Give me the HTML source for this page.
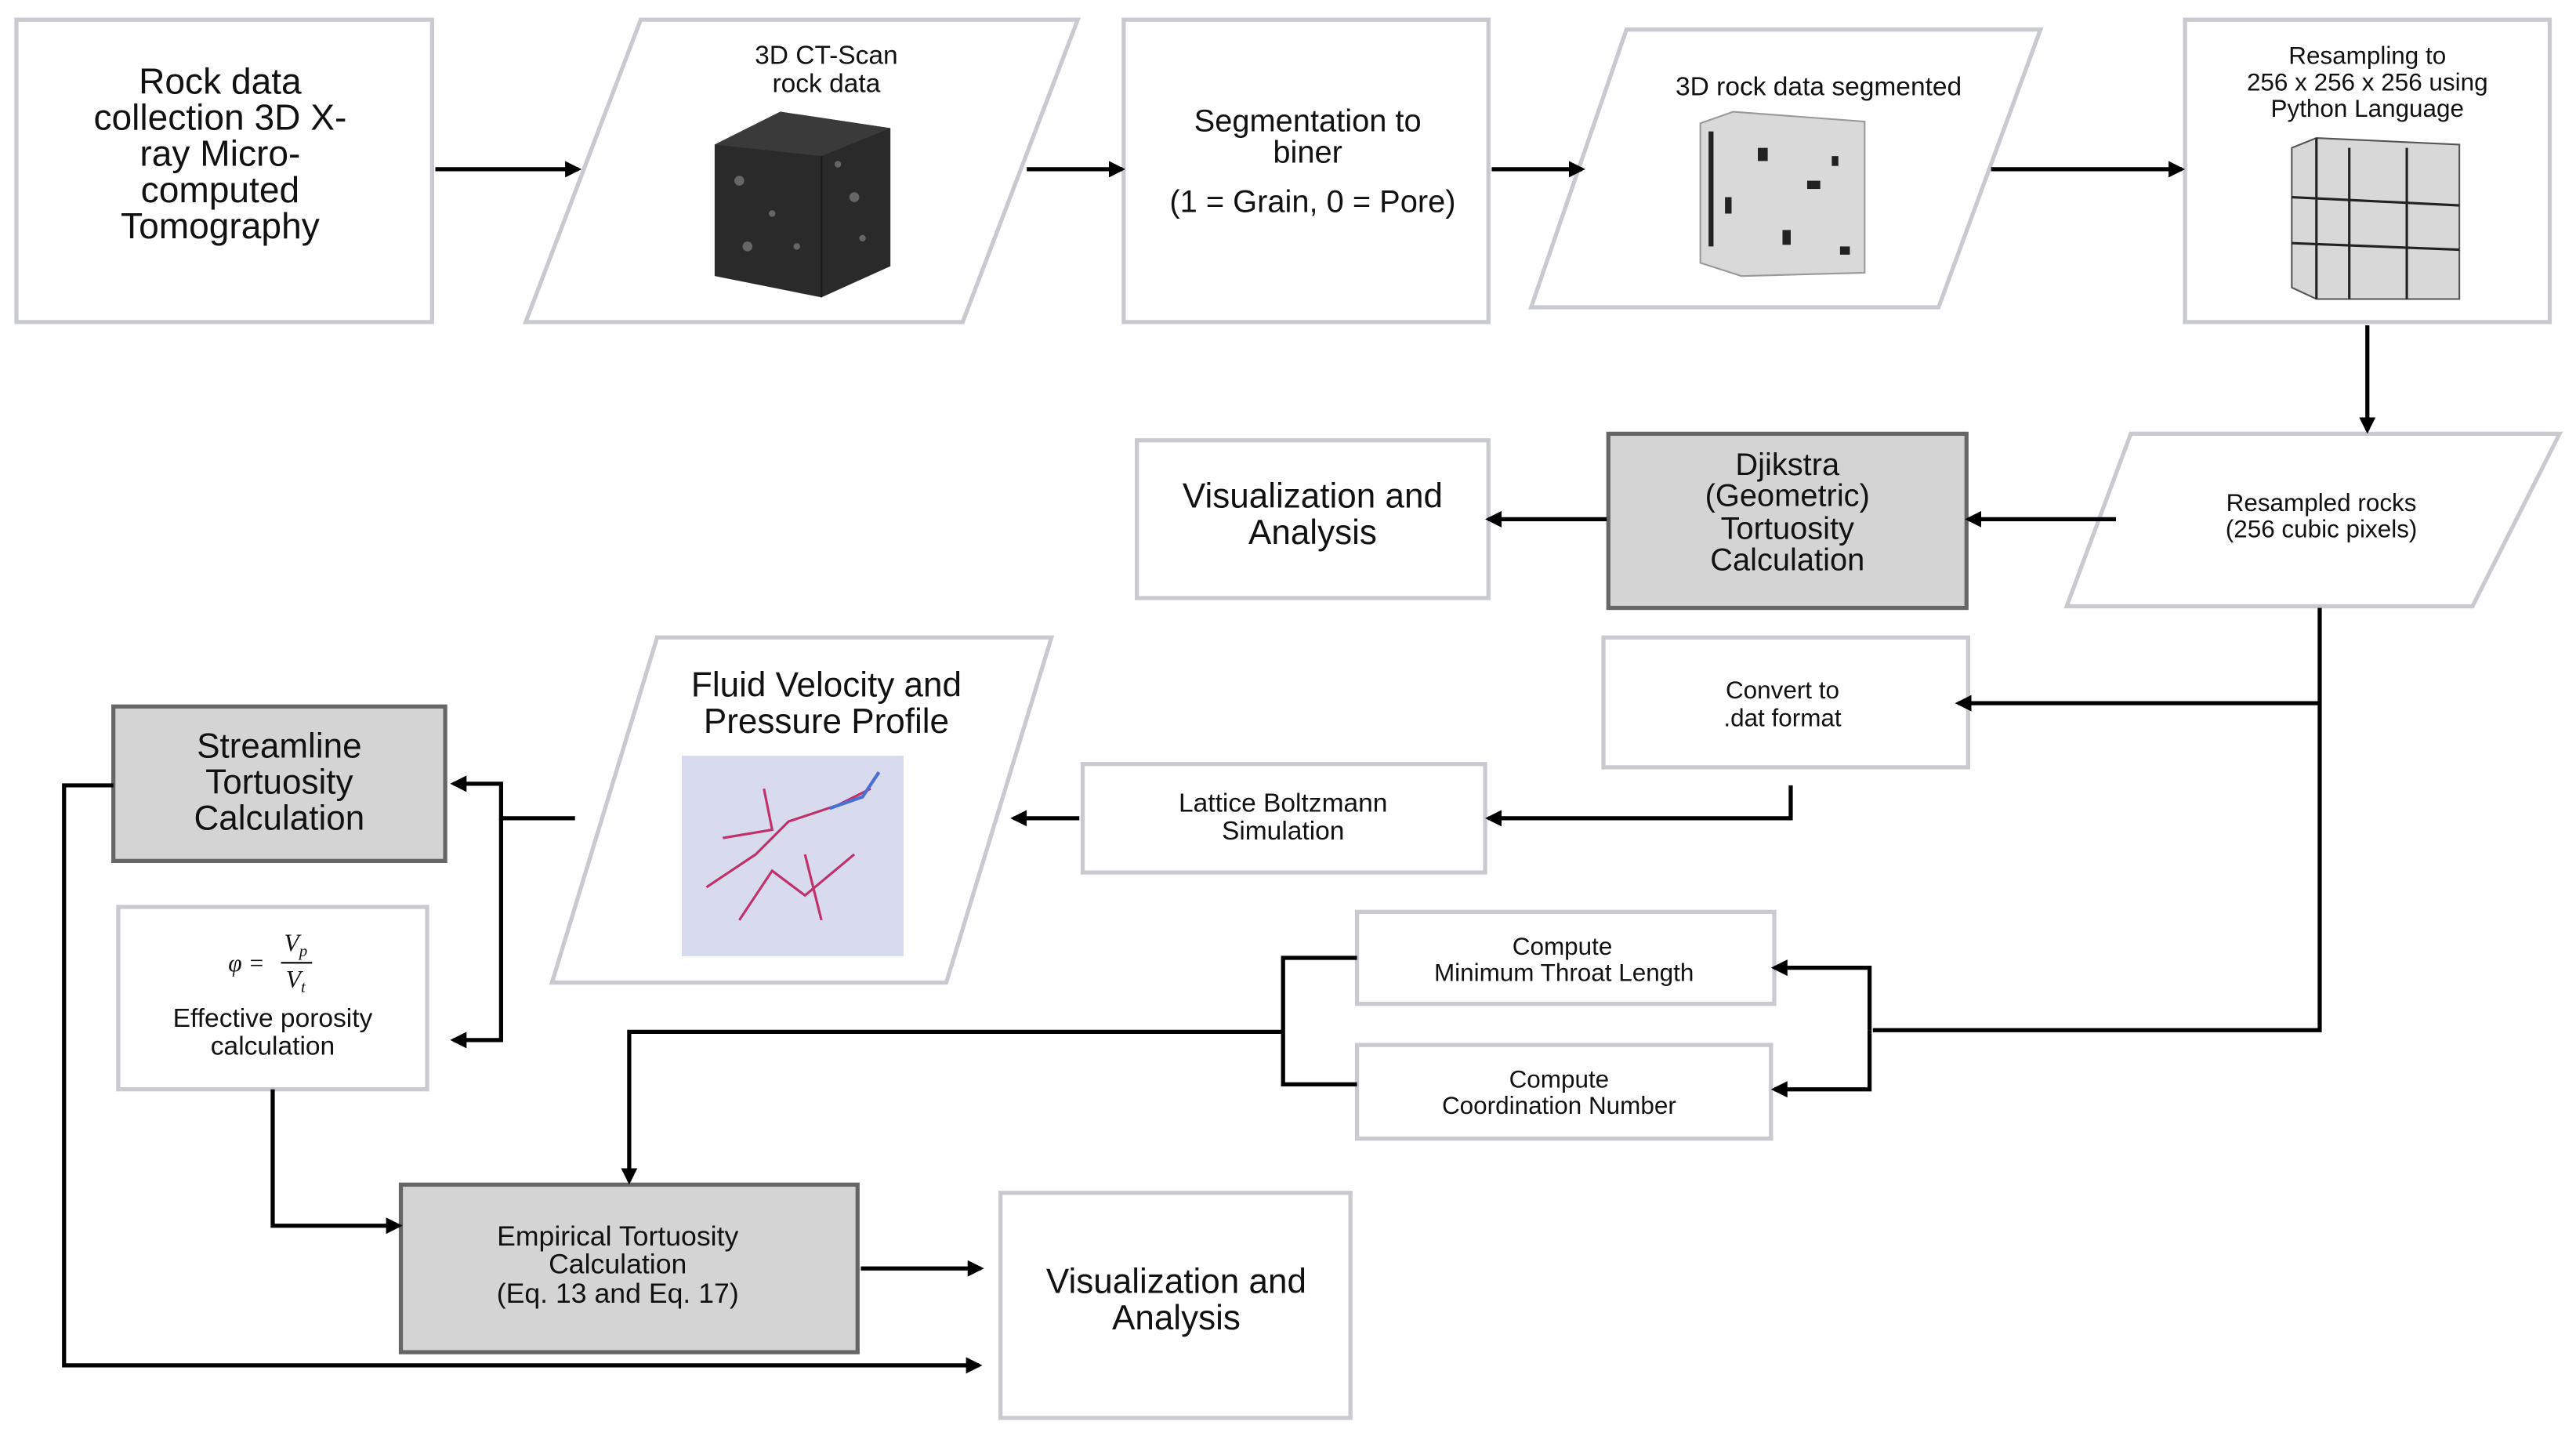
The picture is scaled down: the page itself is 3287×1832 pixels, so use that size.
<!DOCTYPE html>
<html><head><meta charset="utf-8"><style>
html,body{margin:0;padding:0;background:#fff;}
svg{display:block;}
text{font-family:"Liberation Sans",sans-serif;fill:#111;text-anchor:middle;}
</style></head><body>
<svg width="3287" height="1832" viewBox="0 0 1568 874" preserveAspectRatio="none" xmlns="http://www.w3.org/2000/svg">
<defs>
<marker id="a" markerWidth="10" markerHeight="10" refX="8" refY="5" orient="auto" markerUnits="userSpaceOnUse">
<path d="M0,0 L10,5 L0,10 z" fill="#000"/></marker>
</defs>
<g fill="#fff" stroke="#c8cad0" stroke-width="2.5">
<rect x="10" y="12" width="253" height="184"/>
<polygon points="320,196 390,12 656,12 586,196"/>
<rect x="684" y="12" width="222" height="184"/>
<polygon points="932,187 990,18 1242,18 1180,187"/>
<rect x="1330" y="12" width="222" height="184"/>
<polygon points="1258,369 1297,264 1558,264 1505,369"/>
<rect x="692" y="268" width="214" height="96"/>
<rect x="976" y="388" width="222" height="79"/>
<rect x="659" y="465" width="245" height="66"/>
<polygon points="336,598 400,388 640,388 576,598"/>
<rect x="72" y="552" width="188" height="111"/>
<rect x="609" y="726" width="213" height="137"/>
<rect x="826" y="555" width="254" height="56"/>
<rect x="826" y="636" width="252" height="57"/>
</g>
<g fill="#d4d4d4" stroke="#666" stroke-width="2.5">
<rect x="979" y="264" width="218" height="106"/>
<rect x="69" y="430" width="202" height="94"/>
<rect x="244" y="721" width="278" height="102"/>
</g>
<g>
<polygon points="435,88 475,68 542,78 542,162 500,181 435,168" fill="#2a2a2a"/>
<polygon points="435,88 475,68 542,78 500,95" fill="#3a3a3a"/>
<line x1="500" y1="95" x2="500" y2="181" stroke="#1a1a1a"/>
<g fill="#666"><circle cx="450" cy="110" r="3"/><circle cx="470" cy="130" r="2"/><circle cx="520" cy="120" r="3"/><circle cx="485" cy="150" r="2"/><circle cx="455" cy="150" r="3"/><circle cx="525" cy="145" r="2"/><circle cx="510" cy="100" r="2"/></g>
<polygon points="1035,75 1055,68 1135,74 1135,166 1060,168 1035,160" fill="#d9d9d9" stroke="#999"/>
<g fill="#222"><rect x="1070" y="90" width="6" height="8"/><rect x="1100" y="110" width="8" height="5"/><rect x="1085" y="140" width="5" height="9"/><rect x="1115" y="95" width="4" height="6"/><rect x="1050" y="120" width="4" height="10"/><rect x="1120" y="150" width="6" height="5"/><rect x="1040" y="80" width="3" height="70"/></g>
<polygon points="1395,90 1410,84 1497,88 1497,182 1410,182 1395,175" fill="#d8d8d8" stroke="#555"/>
<g stroke="#222" stroke-width="1.5"><line x1="1430" y1="90" x2="1430" y2="182"/><line x1="1465" y1="90" x2="1465" y2="182"/><line x1="1395" y1="120" x2="1497" y2="125"/><line x1="1395" y1="148" x2="1497" y2="152"/><line x1="1410" y1="84" x2="1410" y2="182"/></g>
<rect x="415" y="460" width="135" height="122" fill="#d8dbee"/>
<g stroke="#c0306a" stroke-width="1.5" fill="none"><path d="M430,540 L460,520 L480,500 L510,490 L530,480"/><path d="M450,560 L470,530 L490,545 L520,520"/><path d="M440,510 L470,505 L465,480"/><path d="M490,520 L500,560"/></g>
<path d="M505,492 L525,485 L535,470" stroke="#4a6fd0" stroke-width="2" fill="none"/>
</g>
<g stroke="#000" stroke-width="2.5" fill="none">
<line x1="265" y1="103" x2="352" y2="103" marker-end="url(#a)"/>
<line x1="625" y1="103" x2="683" y2="103" marker-end="url(#a)"/>
<line x1="908" y1="103" x2="963" y2="103" marker-end="url(#a)"/>
<line x1="1212" y1="103" x2="1328" y2="103" marker-end="url(#a)"/>
<line x1="1441" y1="198" x2="1441" y2="262" marker-end="url(#a)"/>
<line x1="1288" y1="316" x2="1198" y2="316" marker-end="url(#a)"/>
<line x1="978" y1="316" x2="906" y2="316" marker-end="url(#a)"/>
<polyline points="1412,370 1412,627 1140,627"/>
<line x1="1412" y1="428" x2="1192" y2="428" marker-end="url(#a)"/>
<polyline points="1090,478 1090,498 906,498" marker-end="url(#a)"/>
<line x1="657" y1="498" x2="617" y2="498" marker-end="url(#a)"/>
<polyline points="350,498 305,498 305,477 276,477" marker-end="url(#a)"/>
<polyline points="305,498 305,633 276,633" marker-end="url(#a)"/>
<polyline points="69,478 39,478 39,831 596,831" marker-end="url(#a)"/>
<polyline points="166,663 166,746 243,746" marker-end="url(#a)"/>
<line x1="524" y1="772" x2="597" y2="772" marker-end="url(#a)"/>
<polyline points="1138,627 1138,589 1080,589" marker-end="url(#a)"/>
<polyline points="1138,627 1138,663 1080,663" marker-end="url(#a)"/>
<polyline points="826,583 781,583 781,660 826,660"/>
<polyline points="781,628 383,628 383,719" marker-end="url(#a)"/>
</g>
<g font-size="22"><text x="134" y="57">Rock data</text><text x="134" y="79">collection 3D X-</text><text x="134" y="101">ray Micro-</text><text x="134" y="123">computed</text><text x="134" y="145">Tomography</text></g>
<g font-size="16"><text x="503" y="39">3D CT-Scan</text><text x="503" y="56">rock data</text></g>
<g font-size="19"><text x="796" y="80">Segmentation to</text><text x="796" y="99">biner</text><text x="799" y="129">(1 = Grain, 0 = Pore)</text></g>
<text x="1107" y="58" font-size="16">3D rock data segmented</text>
<g font-size="15"><text x="1441" y="39">Resampling to</text><text x="1441" y="55">256 x 256 x 256 using</text><text x="1441" y="71">Python Language</text></g>
<g font-size="15"><text x="1413" y="311">Resampled rocks</text><text x="1413" y="327">(256 cubic pixels)</text></g>
<g font-size="19"><text x="1088" y="289">Djikstra</text><text x="1088" y="308">(Geometric)</text><text x="1088" y="328">Tortuosity</text><text x="1088" y="347">Calculation</text></g>
<g font-size="21"><text x="799" y="309">Visualization and</text><text x="799" y="331">Analysis</text></g>
<g font-size="15"><text x="1085" y="425">Convert to</text><text x="1085" y="442">.dat format</text></g>
<g font-size="16"><text x="781" y="494">Lattice Boltzmann</text><text x="781" y="511">Simulation</text></g>
<g font-size="21"><text x="503" y="424">Fluid Velocity and</text><text x="503" y="446">Pressure Profile</text></g>
<g font-size="21"><text x="170" y="461">Streamline</text><text x="170" y="483">Tortuosity</text><text x="170" y="505">Calculation</text></g>
<g font-size="15" font-style="italic"><text x="150" y="591" style="font-family:'Liberation Serif',serif">φ =</text><text x="180" y="579" style="font-family:'Liberation Serif',serif">V<tspan font-size="10" dy="3">p</tspan></text><text x="180" y="601" style="font-family:'Liberation Serif',serif">V<tspan font-size="10" dy="3">t</tspan></text></g>
<line x1="171" y1="586" x2="190" y2="586" stroke="#000" stroke-width="1"/>
<g font-size="16"><text x="166" y="625">Effective porosity</text><text x="166" y="642">calculation</text></g>
<g font-size="17"><text x="376" y="758">Empirical Tortuosity</text><text x="376" y="775">Calculation</text><text x="376" y="793">(Eq. 13 and Eq. 17)</text></g>
<g font-size="21"><text x="716" y="787">Visualization and</text><text x="716" y="809">Analysis</text></g>
<g font-size="15"><text x="951" y="581">Compute</text><text x="952" y="597">Minimum Throat Length</text></g>
<g font-size="15"><text x="949" y="662">Compute</text><text x="949" y="678">Coordination Number</text></g>
</svg>
</body></html>
